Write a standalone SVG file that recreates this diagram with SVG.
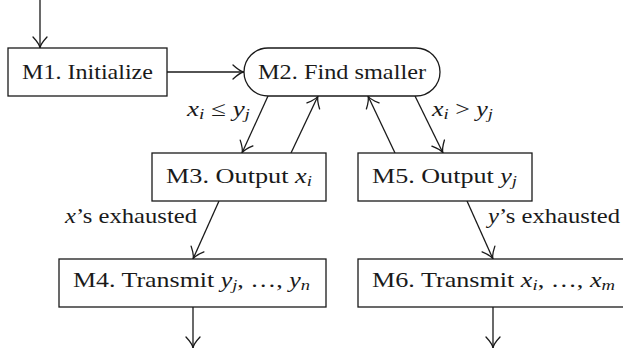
<svg xmlns="http://www.w3.org/2000/svg" width="623" height="348" viewBox="0 0 623 348">
<style>
  .box { fill: #fff; stroke: #1a1a1a; stroke-width: 1.3; }
  .t { font-family: "Liberation Serif", "Times New Roman", serif; font-size: 21px; fill: #1a1a1a; }
  .m { font-style: italic; }
  .s { font-style: italic; font-size: 15px; }
  .c { fill: none; stroke: #1a1a1a; stroke-width: 1.3; marker-end: url(#to); }
</style>
<defs>
  <marker id="to" markerUnits="userSpaceOnUse" viewBox="-13 -9 15 18" refX="0" refY="0" markerWidth="15" markerHeight="18" orient="auto" overflow="visible">
    <path d="M-11,-7 Q-4,-0.5 0,0 Q-4,0.5 -11,7" fill="none" stroke="#1a1a1a" stroke-width="1.3" stroke-linecap="round"/>
  </marker>
</defs>
<g id="connectors">
  <line class="c" x1="40" y1="0" x2="40" y2="48"/>
  <line class="c" x1="167" y1="72" x2="244" y2="72"/>
  <line class="c" x1="268" y1="96" x2="242" y2="153"/>
  <line class="c" x1="291" y1="153" x2="318" y2="96"/>
  <line class="c" x1="395" y1="153" x2="368" y2="96"/>
  <line class="c" x1="415" y1="96" x2="443" y2="153"/>
  <line class="c" x1="219" y1="201" x2="193" y2="259"/>
  <line class="c" x1="467" y1="201" x2="493" y2="259"/>
  <line class="c" x1="193" y1="307" x2="193" y2="348"/>
  <line class="c" x1="493" y1="307" x2="493" y2="348"/>
  <text class="t" x="187" y="116" textLength="63" lengthAdjust="spacingAndGlyphs"><tspan class="m">x</tspan><tspan class="s" dy="3">i</tspan><tspan dy="-3"> ≤ </tspan><tspan class="m">y</tspan><tspan class="s" dy="3">j</tspan></text>
  <text class="t" x="432" y="116" textLength="61" lengthAdjust="spacingAndGlyphs"><tspan class="m">x</tspan><tspan class="s" dy="3">i</tspan><tspan dy="-3"> &gt; </tspan><tspan class="m">y</tspan><tspan class="s" dy="3">j</tspan></text>
  <text class="t" x="65" y="223" textLength="132" lengthAdjust="spacingAndGlyphs"><tspan class="m">x</tspan>’s exhausted</text>
  <text class="t" x="488" y="223" textLength="132" lengthAdjust="spacingAndGlyphs"><tspan class="m">y</tspan>’s exhausted</text>
</g>
<g id="M1">
  <rect class="box" x="8" y="48" width="159" height="48"/>
  <text class="t" x="22" y="79" textLength="131" lengthAdjust="spacingAndGlyphs">M1. Initialize</text>
</g>
<g id="M2">
  <rect class="box" x="244" y="48" width="196" height="48" rx="24" ry="24"/>
  <text class="t" x="258" y="79" textLength="168" lengthAdjust="spacingAndGlyphs">M2. Find smaller</text>
</g>
<g id="M3">
  <rect class="box" x="152" y="153" width="174" height="48"/>
  <text class="t" x="166" y="183" textLength="146" lengthAdjust="spacingAndGlyphs">M3. Output <tspan class="m">x</tspan><tspan class="s" dy="3">i</tspan></text>
</g>
<g id="M5">
  <rect class="box" x="358" y="153" width="174" height="48"/>
  <text class="t" x="372" y="183" textLength="145" lengthAdjust="spacingAndGlyphs">M5. Output <tspan class="m">y</tspan><tspan class="s" dy="3">j</tspan></text>
</g>
<g id="M4">
  <rect class="box" x="59" y="259" width="267" height="48"/>
  <text class="t" x="73" y="287" textLength="237" lengthAdjust="spacingAndGlyphs">M4. Transmit <tspan class="m">y</tspan><tspan class="s" dy="3">j</tspan><tspan dy="-3">, …, </tspan><tspan class="m">y</tspan><tspan class="s" dy="3">n</tspan></text>
</g>
<g id="M6">
  <rect class="box" x="358" y="259" width="270" height="48"/>
  <text class="t" x="372" y="287" textLength="243" lengthAdjust="spacingAndGlyphs">M6. Transmit <tspan class="m">x</tspan><tspan class="s" dy="3">i</tspan><tspan dy="-3">, …, </tspan><tspan class="m">x</tspan><tspan class="s" dy="3">m</tspan></text>
</g>
</svg>
